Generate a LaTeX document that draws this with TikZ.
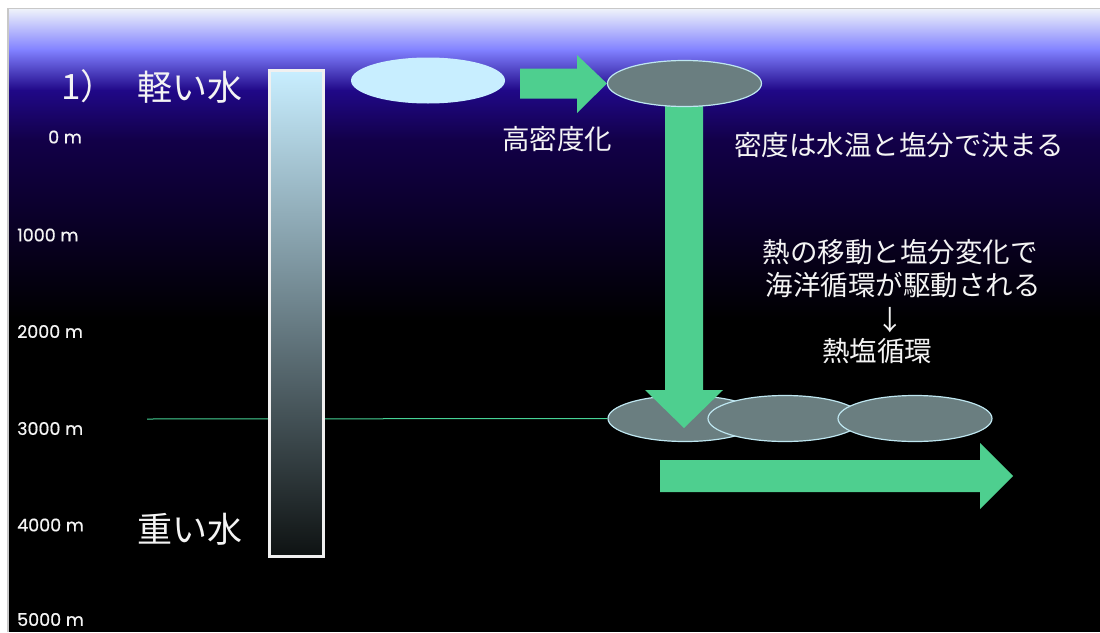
\documentclass[tikz,border=0pt]{standalone}
\usepackage{fontspec}
\setmainfont{Noto Sans CJK JP}
\newfontfamily\numfont[FakeBold=0.6]{Poppins}
\usetikzlibrary{shapes.geometric}
\definecolor{arrowgreen}{RGB}{78,207,143}
\definecolor{greyfill}{RGB}{106,126,128}
\definecolor{greyedge}{RGB}{190,230,240}
\definecolor{lightfill}{RGB}{200,238,255}
\definecolor{linegreen}{RGB}{70,210,150}
\definecolor{txt}{RGB}{244,244,244}
\definecolor{bgA}{RGB}{238,242,250}
\definecolor{bgB}{RGB}{128,128,255}
\definecolor{bgC}{RGB}{32,8,136}
\definecolor{bgD}{RGB}{18,0,72}
\definecolor{frameline}{RGB}{200,200,200}
\definecolor{barmid}{RGB}{145,172,182}
\definecolor{barbot}{RGB}{14,18,18}
\definecolor{baredge}{RGB}{240,240,240}
\tikzset{
  cloud/.style={ellipse, inner sep=0pt, minimum width=154pt, minimum height=46pt},
  heavy/.style={cloud, fill=greyfill, draw=greyedge, line width=1.2pt},
  light/.style={cloud, fill=lightfill},
  blockarrow/.style={fill=arrowgreen},
  depth/.style={text=txt, anchor=west, font=\numfont\fontsize{17.5}{19}\selectfont, inner sep=0pt},
  big/.style={text=txt, inner sep=0pt, font=\fontsize{35}{40}\selectfont},
  mid/.style={text=txt, inner sep=0pt, font=\fontsize{27.5}{32}\selectfont},
}
\begin{document}
\begin{tikzpicture}[x=1pt,y=-1pt]
\useasboundingbox (0,0) rectangle (1100,632);
% background
\fill[white] (0,0) rectangle (1100,632);
\shade[top color=bgA, bottom color=bgB] (8,9) rectangle (1100,50.5);
\shade[top color=bgB, bottom color=bgC] (8,50) rectangle (1100,90.5);
\shade[top color=bgC, bottom color=bgD] (8,90) rectangle (1100,140.5);
\shade[top color=bgD, bottom color=black] (8,140) rectangle (1100,320.5);
\fill[black] (8,320) rectangle (1100,632);
\draw[frameline, line width=1.5pt] (8,632) -- (8,8.5) -- (1100,8.5);

% texts on the left
\node[big, anchor=west] (num) at (61,86) {1）};
\node[big] (lightw) at (190,87) {軽い水};
\node[big] (heavyw) at (190,529) {重い水};
\node[depth] (d0) at (48,137) {0 m};
\node[depth] (d1) at (17,235) {1000 m};
\node[depth] (d2) at (17,331.5) {2000 m};
\node[depth] (d3) at (17,428.5) {3000 m};
\node[depth] (d4) at (17,525) {4000 m};
\node[depth] (d5) at (17,619.5) {5000 m};

% bottom ellipses
\node[heavy] (b1) at (685,418.5) {};
\coordinate (lstart) at (147,419);
\draw[linegreen, line width=1pt] (lstart) -- (b1.west);
\node[heavy] (b2) at (785,418.5) {};
\node[heavy] (b3) at (915,418.5) {};

% density bar
\node[draw=baredge, line width=3pt, minimum width=54pt, minimum height=486pt, inner sep=0pt,
      top color=lightfill, middle color=barmid, bottom color=barbot] (bar) at (296.5,313.5) {};

% top row
\node[light] (t1) at (428,80.5) {};
\fill[blockarrow] (665,95) -- (703,95) -- (703,390) -- (723,390) -- (684,428) -- (645,390) -- (665,390) -- cycle;
\node[heavy] (t2) at (684.5,83.5) {};
\fill[blockarrow] (520,68.5) -- (577,68.5) -- (577,55) -- (t2.west) -- (577,113) -- (577,98.5) -- (520,98.5) -- cycle;

% bottom arrow
\fill[blockarrow] (660,460) -- (980,460) -- (980,443) -- (1013,476) -- (980,509) -- (980,492) -- (660,492) -- cycle;

% right texts
\node[mid] (dens) at (557,139) {高密度化};
\node[mid] (rule) at (899,145) {密度は水温と塩分で決まる};
\node[mid] (l1) at (900,252) {熱の移動と塩分変化で};
\node[mid] (l2) at (903,285) {海洋循環が駆動される};
\node[mid] (l3) at (890,320) {↓};
\node[mid] (l4) at (877,351) {熱塩循環};
\end{tikzpicture}
\end{document}
